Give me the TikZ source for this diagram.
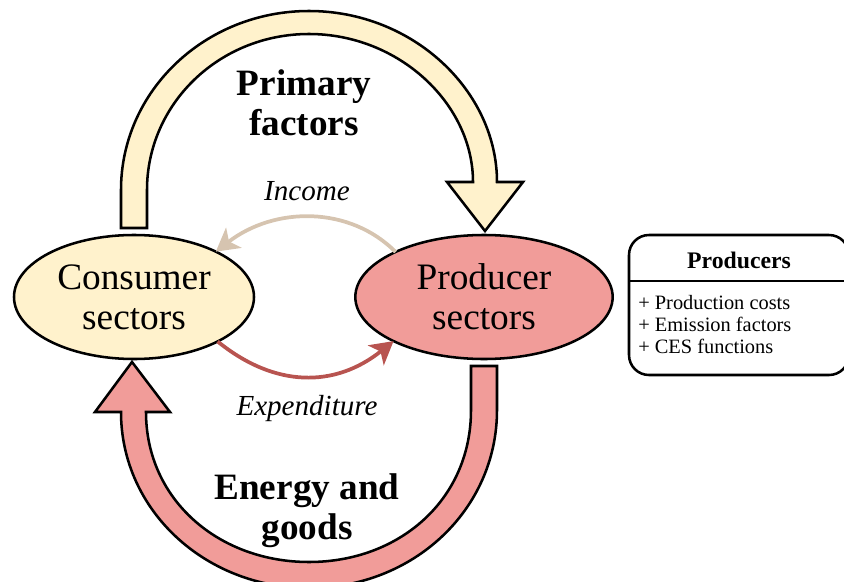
\documentclass[tikz,border=0pt]{standalone}
\usepackage{fontspec}
\setmainfont{Liberation Serif}
\usetikzlibrary{shapes.geometric,arrows.meta}
\definecolor{creamfill}{HTML}{FFF2CC}
\definecolor{pinkfill}{HTML}{F19C99}
\definecolor{tanline}{HTML}{D6C4B0}
\definecolor{redline}{HTML}{B85450}
\tikzset{
  sector/.style={ellipse,draw=black,line width=1.9pt,inner sep=0pt,outer sep=0pt,align=center,minimum height=93pt,font=\fontsize{28}{30}\selectfont},
  blockarrow/.style={draw=black,line width=1.9pt,line join=miter,miter limit=10},
  flowtitle/.style={align=center,inner sep=0pt,font=\fontsize{27.9}{30}\selectfont\bfseries},
  flowlabel/.style={inner sep=0pt,font=\fontsize{21.8}{24}\selectfont\itshape},
  flowline/.style={line width=2.8pt,-{Stealth[length=17pt,width=19pt,inset=4.5pt]}},
  listline/.style={anchor=base west,inner sep=0pt,font=\fontsize{15.3}{17}\selectfont}
}
\begin{document}
\begin{tikzpicture}[x=0.75pt,y=-0.75pt]
\useasboundingbox (0,0) rectangle (844,582);
\clip (0,0) rectangle (844,582);
% top block arrow
\draw[blockarrow,fill=creamfill]
  (121,228) -- (121,190)
  .. controls (121,91) and (205,11) .. (309,11)
  .. controls (413,11) and (497,91) .. (497,182)
  -- (523,182) -- (485,231) -- (447,182) -- (473,182)
  .. controls (473,104) and (399,34) .. (309,34)
  .. controls (219,34) and (147,104) .. (147,190)
  -- (147,228) -- cycle;
% bottom block arrow
\draw[blockarrow,fill=pinkfill]
  (497,366) -- (497,410)
  .. controls (497,510) and (413,588) .. (309,588)
  .. controls (205,588) and (121,510) .. (121,412)
  -- (95,412) -- (132,362) -- (170,412) -- (146,412)
  .. controls (146,500) and (219,562) .. (309,562)
  .. controls (399,562) and (471,500) .. (471,410)
  -- (471,366) -- cycle;
% sectors
\node[sector,fill=creamfill,minimum width=180pt] (cons) at (134,297) {Consumer\\sectors};
\node[sector,fill=pinkfill,minimum width=193pt] (prod) at (484,297) {Producer\\sectors};
% inner flows
\draw[flowline,draw=tanline] (prod.153) .. controls (350,206) and (275,206) .. (cons.29);
\draw[flowline,draw=redline] (cons.332) .. controls (275,388) and (335,388) .. (prod.206);
% labels
\node[flowtitle] (primary) at (304,103) {Primary\\factors};
\node[flowtitle] (energy) at (307,511) {Energy and\\goods};
\node[flowlabel] (income) at (307,191) {Income};
\node[flowlabel] (expend) at (307,409) {Expenditure};
% producers box
\node[draw=black,line width=1.9pt,rounded corners=15pt,minimum width=165pt,minimum height=105pt,inner sep=0pt,outer sep=0pt] (pbox) at (739,305) {};
\coordinate (divl) at (629,281);
\coordinate (divr) at (849,281);
\draw[line width=1.9pt] (divl) -- (divr);
\node[inner sep=0pt,font=\fontsize{17.8}{20}\selectfont\bfseries] (ptitle) at (739,260) {Producers};
\node[listline] (l1) at (638,309) {+ Production costs};
\node[listline] (l2) at (638,331) {+ Emission factors};
\node[listline] (l3) at (638,353) {+ CES functions};
\end{tikzpicture}
\end{document}
